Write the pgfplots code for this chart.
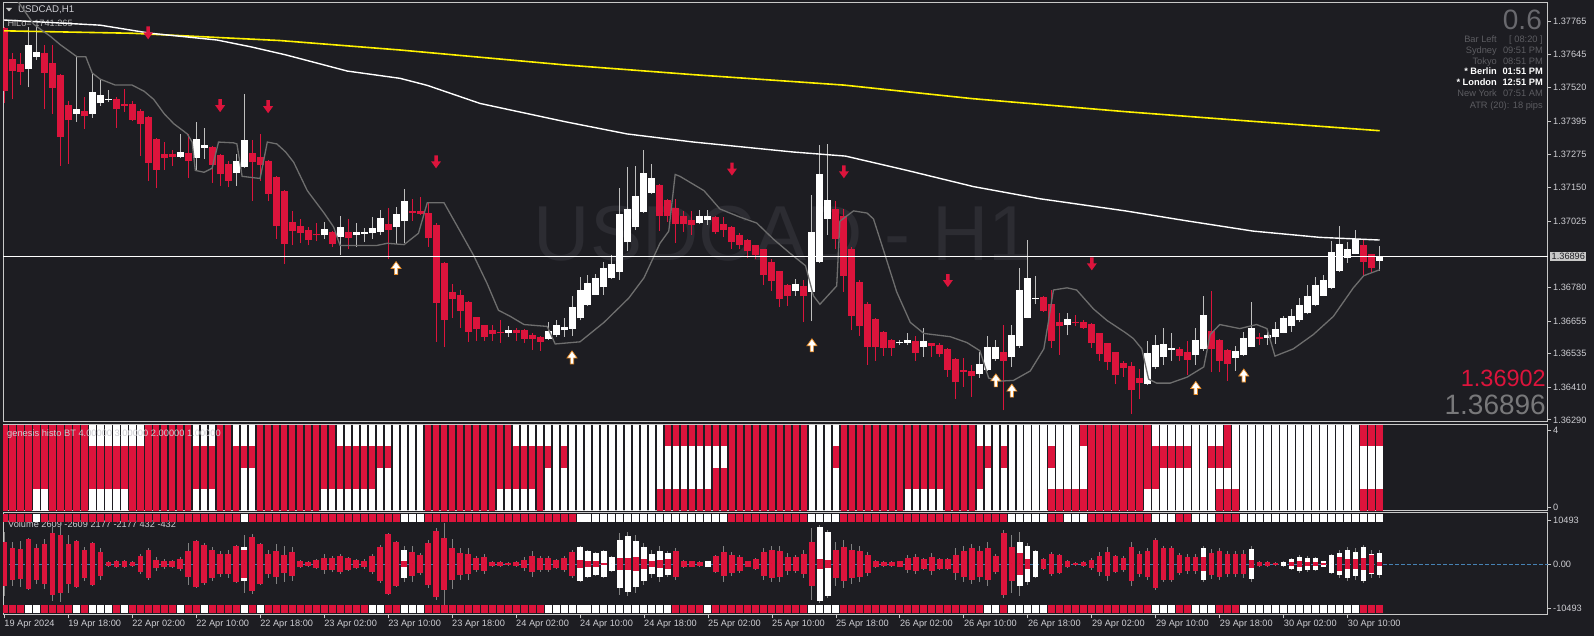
\documentclass[border=0pt]{standalone}
\usepackage{fontspec}
\setmainfont{Liberation Sans}
\usepackage{pgfplots}
\usepackage{pgfplotstable}
\pgfplotsset{compat=1.18}
\definecolor{bg}{RGB}{29,29,34}
\definecolor{frm}{RGB}{200,200,200}
\definecolor{lbl}{RGB}{205,205,210}
\definecolor{crim}{RGB}{220,20,60}
\definecolor{vwick}{RGB}{128,128,128}
\definecolor{wwick}{RGB}{190,190,190}
\definecolor{hilo}{RGB}{110,110,110}
\definecolor{dimtxt}{RGB}{92,92,97}
\definecolor{wm}{RGB}{44,44,50}
\definecolor{steel}{RGB}{70,130,180}
\definecolor{aedge}{RGB}{230,140,40}
\definecolor{boxc}{RGB}{200,200,200}
\newcommand\fs[1]{\fontsize{#1}{#1}\selectfont}

\pgfdeclareplotmark{dnarrow}{%
 \pgfpathmoveto{\pgfqpoint{-1.7pt}{7pt}}%
 \pgfpathlineto{\pgfqpoint{1.7pt}{7pt}}%
 \pgfpathlineto{\pgfqpoint{1.7pt}{1pt}}%
 \pgfpathlineto{\pgfqpoint{5pt}{1pt}}%
 \pgfpathlineto{\pgfqpoint{0pt}{-6pt}}%
 \pgfpathlineto{\pgfqpoint{-5pt}{1pt}}%
 \pgfpathlineto{\pgfqpoint{-1.7pt}{1pt}}%
 \pgfpathclose\pgfusepathqfill}
\pgfdeclareplotmark{uparrow}{%
 \pgfpathmoveto{\pgfqpoint{-1.7pt}{-7pt}}%
 \pgfpathlineto{\pgfqpoint{1.7pt}{-7pt}}%
 \pgfpathlineto{\pgfqpoint{1.7pt}{-1pt}}%
 \pgfpathlineto{\pgfqpoint{5pt}{-1pt}}%
 \pgfpathlineto{\pgfqpoint{0pt}{6pt}}%
 \pgfpathlineto{\pgfqpoint{-5pt}{-1pt}}%
 \pgfpathlineto{\pgfqpoint{-1.7pt}{-1pt}}%
 \pgfpathclose\pgfusepathqfillstroke}

\pgfplotstableread{
k o h l c r1 r2 r3 r4 vt vi vw vc ts bs
0 1.37740 1.37747 1.37462 1.37507 0 0 0 0 5300 0 7700 0 0 0
1 1.37627 1.37650 1.37477 1.37582 0 0 0 0 3900 0 5300 0 0 0
2 1.37608 1.37650 1.37530 1.37578 0 0 0 0 3600 0 5600 0 0 0
3 1.37590 1.37747 1.37522 1.37677 0 0 0 0 6000 0 6200 0 0 1
4 1.37635 1.37747 1.37623 1.37654 1 0 0 0 3800 0 4800 0 1 1
5 1.37650 1.37680 1.37440 1.37575 1 0 0 0 4800 0 5900 0 0 0
6 1.37612 1.37680 1.37424 1.37521 0 0 0 0 7400 0 8900 0 0 0
7 1.37567 1.37570 1.37232 1.37337 0 0 0 0 6900 0 9100 0 0 0
8 1.37455 1.37470 1.37237 1.37399 0 0 0 0 4800 0 6900 0 0 0
9 1.37424 1.37635 1.37394 1.37440 0 0 0 0 5500 0 5800 0 0 1
10 1.37434 1.37485 1.37367 1.37414 0 0 0 0 3300 0 4100 0 0 0
11 1.37424 1.37575 1.37409 1.37503 1 0 0 1 4900 0 5300 0 0 1
12 1.37462 1.37552 1.37452 1.37494 1 0 0 1 2900 0 3700 0 0 1
13 1.37474 1.37512 1.37467 1.37479 1 0 0 1 500 0 700 0 0 1
14 1.37479 1.37485 1.37372 1.37440 1 0 0 1 640 0 950 0 0 0
15 1.37459 1.37515 1.37432 1.37453 1 0 0 1 700 0 900 0 0 1
16 1.37460 1.37470 1.37397 1.37400 0 0 0 1 480 0 700 0 0 0
17 1.37434 1.37440 1.37267 1.37385 0 0 0 1 2000 0 2500 0 0 0
18 1.37412 1.37415 1.37175 1.37241 0 0 0 0 3400 0 3700 0 0 0
19 1.37330 1.37334 1.37147 1.37217 0 0 0 0 950 0 1600 0 0 0
20 1.37274 1.37319 1.37217 1.37261 0 0 0 0 700 0 1300 0 0 0
21 1.37274 1.37289 1.37232 1.37265 0 0 0 0 700 0 950 0 0 0
22 1.37264 1.37349 1.37259 1.37282 0 0 0 0 1200 0 1600 0 0 1
23 1.37277 1.37349 1.37187 1.37247 0 0 0 0 3100 0 4900 0 0 0
24 1.37259 1.37394 1.37214 1.37330 1 0 0 1 5600 0 5800 0 0 0
25 1.37298 1.37372 1.37256 1.37307 1 0 0 1 4500 0 5100 0 0 1
26 1.37301 1.37304 1.37169 1.37234 1 0 0 1 3300 0 4000 0 0 0
27 1.37271 1.37274 1.37157 1.37199 0 0 0 0 2300 0 3200 0 0 0
28 1.37237 1.37247 1.37151 1.37175 0 0 0 0 2500 0 3300 0 0 0
29 1.37205 1.37274 1.37157 1.37247 0 0 0 1 4300 0 4500 0 0 0
30 1.37225 1.37497 1.37222 1.37327 1 1 0 1 4000 3300 6900 1 1 1
31 1.37279 1.37327 1.37102 1.37244 1 1 0 1 6400 0 7200 0 0 0
32 1.37264 1.37349 1.37174 1.37234 0 0 0 0 4800 0 5000 0 0 1
33 1.37249 1.37252 1.37099 1.37127 0 0 0 0 2500 0 3300 0 0 0
34 1.37190 1.37193 1.36959 1.37008 0 0 0 0 3100 0 4700 0 0 0
35 1.37139 1.37142 1.36869 1.36941 0 0 0 0 2100 0 4300 0 0 0
36 1.37023 1.37064 1.36936 1.36989 0 0 0 0 2800 0 4100 0 0 0
37 1.37007 1.37034 1.36944 1.36981 0 0 0 0 640 0 950 0 0 0
38 1.36995 1.37004 1.36936 1.36956 0 0 0 0 450 0 650 0 0 0
39 1.36978 1.37019 1.36951 1.36974 0 0 0 0 950 0 1100 0 0 0
40 1.36973 1.37022 1.36959 1.36996 1 0 0 0 1350 0 2400 0 0 0
41 1.36986 1.36989 1.36929 1.36941 1 0 0 0 1430 0 2000 0 0 0
42 1.36966 1.37044 1.36899 1.37004 1 0 0 1 2000 0 2400 0 0 0
43 1.36986 1.37034 1.36921 1.36962 1 0 0 1 1430 0 1750 0 0 0
44 1.36974 1.37019 1.36929 1.36986 1 0 0 1 950 0 1200 0 0 0
45 1.36978 1.36999 1.36948 1.36984 1 0 0 1 700 0 1100 0 0 0
46 1.36981 1.37041 1.36959 1.37001 1 0 0 1 2000 0 2400 0 0 1
47 1.36986 1.37067 1.36974 1.37038 1 1 0 1 4100 0 4500 0 0 1
48 1.37017 1.37073 1.36887 1.36995 1 1 0 1 7200 0 7400 0 0 0
49 1.37004 1.37079 1.36941 1.37052 1 1 1 1 5300 0 5600 0 0 0
50 1.37026 1.37144 1.36944 1.37102 1 1 1 1 3300 800 4300 1 1 1
51 1.37064 1.37109 1.37026 1.37058 1 1 1 1 2900 0 4300 0 1 1
52 1.37065 1.37114 1.37049 1.37052 1 1 1 1 2100 0 2600 0 1 1
53 1.37056 1.37094 1.36932 1.36962 0 0 0 0 5000 0 5800 0 0 0
54 1.37011 1.37019 1.36580 1.36723 0 0 0 0 7900 0 8700 0 0 0
55 1.36872 1.36876 1.36558 1.36658 0 0 0 0 6300 0 9700 0 0 0
56 1.36765 1.36794 1.36666 1.36738 0 0 0 0 3900 0 6000 0 0 0
57 1.36753 1.36771 1.36631 1.36693 0 0 0 0 2700 0 3900 0 0 0
58 1.36726 1.36729 1.36580 1.36616 0 0 0 0 2400 0 3900 0 0 0
59 1.36670 1.36672 1.36583 1.36625 0 0 0 0 1450 0 1900 0 0 0
60 1.36642 1.36643 1.36583 1.36598 0 0 0 0 1700 0 2400 0 0 0
61 1.36621 1.36643 1.36583 1.36609 0 0 0 0 500 0 700 0 0 0
62 1.36616 1.36658 1.36576 1.36613 1 0 0 0 500 0 700 0 0 0
63 1.36613 1.36636 1.36598 1.36622 1 0 0 0 300 0 500 0 0 0
64 1.36621 1.36631 1.36583 1.36613 1 0 0 1 400 0 600 0 0 0
65 1.36621 1.36628 1.36576 1.36591 1 0 0 1 970 0 1700 0 0 0
66 1.36606 1.36613 1.36550 1.36588 1 0 0 1 1900 0 3100 0 0 0
67 1.36595 1.36601 1.36546 1.36580 0 0 0 1 1350 0 2000 0 0 0
68 1.36589 1.36651 1.36586 1.36618 1 1 0 1 1350 0 1900 0 0 1
69 1.36603 1.36661 1.36598 1.36643 1 1 1 1 970 0 1300 0 0 1
70 1.36621 1.36666 1.36598 1.36634 1 1 0 1 1500 0 2000 0 0 1
71 1.36628 1.36749 1.36601 1.36708 1 1 1 1 2900 0 3400 0 0 1
72 1.36666 1.36819 1.36658 1.36771 1 1 1 1 4100 970 4300 1 1 1
73 1.36716 1.36827 1.36711 1.36797 1 1 1 1 3100 770 3300 1 1 1
74 1.36753 1.36831 1.36752 1.36816 1 1 1 1 2700 600 2900 1 1 1
75 1.36782 1.36876 1.36752 1.36851 1 1 1 1 3100 300 3300 1 1 1
76 1.36816 1.36899 1.36812 1.36869 1 1 1 1 1750 0 2000 1 1 1
77 1.36839 1.37150 1.36809 1.37052 1 1 1 1 5800 1450 7300 1 1 1
78 1.36947 1.37226 1.36914 1.37072 1 1 1 1 6600 1450 7700 1 1 1
79 1.37004 1.37232 1.36995 1.37120 1 1 1 1 5400 1750 6800 1 1 1
80 1.37061 1.37289 1.37056 1.37204 1 1 1 1 4100 1160 5000 1 1 1
81 1.37132 1.37237 1.37127 1.37184 1 1 1 1 2400 770 3400 1 1 1
82 1.37160 1.37165 1.36989 1.37044 0 1 1 1 3100 970 4300 1 1 1
83 1.37106 1.37109 1.37022 1.37046 0 1 1 0 2600 1200 3100 1 1 1
84 1.37075 1.37109 1.36944 1.37014 0 1 1 0 3000 0 3900 0 1 0
85 1.37044 1.37064 1.36986 1.37014 0 1 1 0 700 0 900 0 1 0
86 1.37032 1.37064 1.36974 1.37013 0 1 1 0 600 0 800 0 1 0
87 1.37019 1.37068 1.37014 1.37046 0 1 1 0 500 0 700 0 1 0
88 1.37032 1.37067 1.37011 1.37044 0 1 1 0 680 0 800 1 1 1
89 1.37041 1.37044 1.36977 1.36986 0 0 1 0 1800 0 2200 0 1 0
90 1.37017 1.37041 1.36966 1.36992 0 0 1 0 2900 0 4300 0 1 0
91 1.37004 1.37007 1.36923 1.36947 0 0 0 0 2100 0 2900 0 0 0
92 1.36974 1.36983 1.36921 1.36939 0 0 0 0 1650 0 2100 0 0 0
93 1.36956 1.36959 1.36891 1.36914 0 0 0 0 600 0 800 0 0 0
94 1.36936 1.36939 1.36884 1.36899 0 0 0 0 1160 0 1500 0 0 0
95 1.36921 1.36923 1.36791 1.36828 0 0 0 0 2900 0 3900 0 0 0
96 1.36876 1.36884 1.36767 1.36804 0 0 0 0 3400 0 4400 0 0 0
97 1.36842 1.36843 1.36707 1.36738 0 0 0 0 3100 0 4400 0 0 0
98 1.36789 1.36794 1.36711 1.36749 0 0 0 0 1750 0 2600 0 0 0
99 1.36768 1.36812 1.36749 1.36795 0 0 0 0 1750 0 2100 0 0 0
100 1.36786 1.36809 1.36651 1.36747 0 0 0 0 2400 0 3400 0 0 0
101 1.36764 1.37124 1.36655 1.36986 1 1 1 1 5300 0 8700 0 1 1
102 1.36876 1.37307 1.36872 1.37199 1 1 1 1 8900 1250 9200 1 1 1
103 1.37034 1.37312 1.36974 1.37105 1 1 1 1 7700 870 8000 1 1 1
104 1.37070 1.37102 1.36921 1.36959 1 1 0 1 3400 0 5300 0 1 1
105 1.37046 1.37072 1.36764 1.36824 0 0 0 0 4100 0 5800 0 0 0
106 1.36923 1.36929 1.36621 1.36676 0 0 0 0 3400 0 4800 0 0 0
107 1.36801 1.36809 1.36601 1.36636 0 0 0 0 3100 0 4400 0 0 0
108 1.36720 1.36726 1.36493 1.36561 0 0 0 0 2100 0 2900 0 0 0
109 1.36664 1.36666 1.36508 1.36561 0 0 0 0 680 0 900 0 0 0
110 1.36615 1.36618 1.36526 1.36556 0 0 0 0 500 0 700 0 0 0
111 1.36586 1.36591 1.36526 1.36556 0 0 0 0 400 0 600 0 0 0
112 1.36573 1.36586 1.36568 1.36580 0 0 0 0 600 0 800 0 0 0
113 1.36574 1.36613 1.36568 1.36586 1 0 0 0 1450 0 2100 0 0 0
114 1.36582 1.36601 1.36508 1.36538 1 0 0 0 1750 0 2400 0 0 0
115 1.36561 1.36631 1.36523 1.36583 1 0 0 0 1160 0 1500 0 0 0
116 1.36573 1.36576 1.36523 1.36565 1 0 0 0 1750 0 2700 0 0 0
117 1.36568 1.36576 1.36523 1.36535 1 0 0 0 1160 0 1500 0 0 0
118 1.36553 1.36556 1.36448 1.36475 0 0 0 0 1160 0 1500 0 0 0
119 1.36516 1.36518 1.36366 1.36429 0 0 0 0 2100 0 3900 0 0 0
120 1.36475 1.36520 1.36411 1.36469 0 0 0 0 3100 0 4400 0 0 0
121 1.36471 1.36493 1.36376 1.36451 0 0 0 0 3900 0 4800 0 0 0
122 1.36460 1.36541 1.36445 1.36496 1 0 0 1 3100 0 4400 0 0 0
123 1.36475 1.36601 1.36472 1.36561 1 1 0 1 3900 0 5300 0 0 1
124 1.36517 1.36586 1.36508 1.36561 1 1 1 1 1900 0 2400 0 0 1
125 1.36541 1.36643 1.36325 1.36508 1 1 0 1 7500 0 8200 0 0 0
126 1.36523 1.36643 1.36486 1.36604 1 1 1 1 4100 0 6800 0 1 1
127 1.36564 1.36854 1.36556 1.36771 1 1 1 1 5300 2600 7700 1 1 1
128 1.36669 1.36956 1.36666 1.36816 1 1 1 1 4350 1250 5000 1 1 1
129 1.36738 1.36824 1.36719 1.36743 1 1 1 1 3100 0 3400 1 1 1
130 1.36746 1.36749 1.36689 1.36693 1 1 1 1 1160 0 1500 0 1 1
131 1.36719 1.36771 1.36556 1.36583 0 1 0 1 2400 0 2900 0 0 0
132 1.36654 1.36686 1.36531 1.36636 0 1 1 1 2100 0 2500 0 0 0
133 1.36643 1.36686 1.36603 1.36663 0 1 1 1 680 0 900 0 1 0
134 1.36654 1.36679 1.36636 1.36651 0 1 1 1 200 0 400 0 1 0
135 1.36651 1.36661 1.36628 1.36631 0 1 1 0 500 0 700 0 1 0
136 1.36645 1.36648 1.36556 1.36573 0 0 0 0 1060 0 1400 0 0 0
137 1.36610 1.36613 1.36508 1.36535 0 0 0 0 1900 0 2900 0 0 0
138 1.36574 1.36576 1.36475 1.36504 0 0 0 0 2900 0 4100 0 0 0
139 1.36541 1.36543 1.36421 1.36456 0 0 0 0 1800 0 2200 0 0 0
140 1.36501 1.36508 1.36448 1.36481 0 0 0 0 1500 0 2000 0 0 0
141 1.36490 1.36504 1.36313 1.36400 0 0 0 0 4100 0 5300 0 0 0
142 1.36445 1.36478 1.36366 1.36426 0 0 0 0 2400 0 3100 0 0 0
143 1.36423 1.36583 1.36418 1.36538 1 0 0 0 3100 0 3800 0 0 0
144 1.36484 1.36606 1.36478 1.36568 1 0 0 1 5800 0 6300 0 1 1
145 1.36523 1.36631 1.36493 1.36571 1 1 0 1 3900 0 4400 0 1 1
146 1.36549 1.36613 1.36508 1.36555 1 1 0 1 3900 0 4400 0 1 1
147 1.36553 1.36561 1.36508 1.36528 1 1 0 1 2100 0 2600 0 0 0
148 1.36541 1.36583 1.36456 1.36513 1 1 0 1 1750 0 2300 0 0 0
149 1.36529 1.36631 1.36493 1.36586 1 1 1 1 1750 0 2400 0 1 1
150 1.36553 1.36749 1.36546 1.36678 1 1 1 1 3900 1650 4400 1 1 1
151 1.36619 1.36768 1.36466 1.36553 1 1 0 1 2700 0 3600 0 1 1
152 1.36586 1.36591 1.36466 1.36508 0 1 0 1 3100 0 3700 0 0 0
153 1.36550 1.36553 1.36433 1.36498 0 1 0 0 2400 0 3100 0 0 0
154 1.36520 1.36565 1.36471 1.36544 0 1 1 1 2400 0 3000 0 0 0
155 1.36531 1.36616 1.36526 1.36593 1 1 1 1 2400 0 3300 0 1 1
156 1.36561 1.36726 1.36558 1.36631 1 1 1 1 3600 870 4400 1 1 1
157 1.36597 1.36610 1.36568 1.36591 1 1 1 1 500 0 700 0 1 1
158 1.36594 1.36618 1.36568 1.36603 1 1 1 1 500 0 700 0 1 1
159 1.36595 1.36651 1.36571 1.36625 1 1 1 1 300 0 500 0 1 1
160 1.36613 1.36676 1.36610 1.36667 1 1 1 1 580 0 700 1 1 1
161 1.36637 1.36701 1.36616 1.36676 1 1 1 1 1250 480 1500 1 1 1
162 1.36658 1.36741 1.36651 1.36714 1 1 1 1 1750 680 2200 1 1 1
163 1.36684 1.36789 1.36681 1.36749 1 1 1 1 1450 580 1800 1 1 1
164 1.36714 1.36819 1.36710 1.36789 1 1 1 1 1450 480 1700 1 1 1
165 1.36749 1.36827 1.36747 1.36809 1 1 1 1 680 290 800 1 1 1
166 1.36779 1.36953 1.36776 1.36911 1 1 1 1 2100 0 2500 1 1 1
167 1.36842 1.37007 1.36839 1.36941 1 1 1 1 2700 1750 3300 1 1 1
168 1.36889 1.36950 1.36872 1.36924 1 1 1 1 3400 1250 4100 1 1 1
169 1.36906 1.36995 1.36903 1.36959 1 1 1 1 2900 1250 3900 1 1 1
170 1.36936 1.36956 1.36824 1.36876 0 1 1 0 4000 1450 4600 1 1 0
171 1.36903 1.36906 1.36839 1.36851 0 1 1 0 2300 2100 3300 1 1 0
172 1.36878 1.36935 1.36842 1.36896 0 1 1 0 2609 432 3300 1 1 0
}\bars

\pgfplotsset{
  mt4/.style={scale only axis, width=1545pt, xmin=-0.15, xmax=193.04,
    axis line style={frm, line width=1pt},
    tick style={frm, line width=0.8pt},
    tick align=outside, major tick length=3.5pt,
    ytick pos=right, yticklabel pos=right,
    yticklabel style={text=lbl, font=\fs{9.2}, anchor=west, inner sep=1.5pt},
    xtick=\empty, scaled ticks=false, clip=true},
  cndl/.style={only marks, mark=none, mark size=0pt, mark options={draw=none, fill=none}, forget plot,
    error bars/y dir=plus, error bars/y explicit, error bars/error mark=none},
  sym/.style={only marks, mark=none, mark size=0pt, mark options={draw=none, fill=none}, forget plot,
    error bars/y dir=both, error bars/y explicit, error bars/error mark=none},
}

\begin{document}
\begin{tikzpicture}
\path[use as bounding box] (0pt,0pt) rectangle (1594pt,636pt);
\fill[bg] (0pt,0pt) rectangle (1594pt,636pt);
% watermark and header text (behind)
\node[text=wm, font=\fs{78}, inner sep=0pt] at (783pt,402.5pt) {USDCAD - H1};
\fill[frm] (6pt,628pt) -- (12pt,628pt) -- (9pt,624.5pt) -- cycle;
\node[text=lbl, font=\fs{9.7}, anchor=west, inner sep=0pt] at (18pt,626pt) {USDCAD,H1};
\node[text={rgb,255:red,180;green,180;blue,180}, font=\fs{9.2}, anchor=west, inner sep=0pt] at (7.3pt,612.7pt) {HiLo= 1741.265};

% ---------- main price panel ----------
\begin{axis}[mt4, at={(3pt,214pt)}, anchor=south west, height=419.5pt,
  ymin=1.36282, ymax=1.37836,
  ytick={1.37765,1.37645,1.37520,1.37395,1.37275,1.37150,1.37025,1.36780,1.36655,1.36535,1.36410,1.36290},
  yticklabels={1.37765,1.37645,1.37520,1.37395,1.37275,1.37150,1.37025,1.36780,1.36655,1.36535,1.36410,1.36290}]
\addplot[cndl, restrict expr to domain={\thisrow{o}-\thisrow{c}}{0:1},
  error bars/error bar style={crim, line width=1pt}]
  table[x=k, y=l, y error expr=\thisrow{h}-\thisrow{l}] {\bars};
\addplot[cndl, restrict expr to domain={\thisrow{c}-\thisrow{o}}{0:1},
  error bars/error bar style={wwick, line width=1pt}]
  table[x=k, y=l, y error expr=\thisrow{h}-\thisrow{l}] {\bars};
\addplot[cndl, restrict expr to domain={\thisrow{o}-\thisrow{c}}{0:1},
  error bars/error bar style={crim, line width=7pt}]
  table[x=k, y=c, y error expr=\thisrow{o}-\thisrow{c}] {\bars};
\addplot[cndl, restrict expr to domain={\thisrow{c}-\thisrow{o}}{0:1},
  error bars/error bar style={white, line width=7pt}]
  table[x=k, y=o, y error expr=\thisrow{c}-\thisrow{o}] {\bars};
% long moving average (yellow)
\addplot[yellow, line width=1.6pt] coordinates {(0,1.37731) (16,1.37722) (34.5,1.37695) (49.5,1.37660) (70,1.37605) (86,1.37569) (105,1.37530) (121,1.37480) (140,1.37432) (156,1.37396) (172,1.37361)};
% moving average (white)
\addplot[white, line width=1.4pt] coordinates {(0,1.37771) (12,1.37752) (18.3,1.37722) (26.6,1.37697) (30.8,1.37672) (35.2,1.37642) (42.9,1.37582) (49.5,1.37555) (52.9,1.37529) (59.5,1.37462) (70.2,1.37394) (77.9,1.37349) (86.2,1.37319) (98.7,1.37282) (105.2,1.37267) (112.9,1.37214) (121.2,1.37154) (129.5,1.37109) (140.2,1.37064) (147.9,1.37027) (156.2,1.36989) (164.5,1.36966) (172,1.36956)};
% HiLo line
\addplot[hilo, line width=1.3pt] coordinates {(1.6,1.37845) (3.7,1.37755) (5.8,1.37710) (7.0,1.37680) (9.1,1.37635) (10.2,1.37635) (11,1.37575) (12,1.37552) (13.9,1.37530) (16,1.37530) (17.5,1.37507) (18.7,1.37477) (20,1.37424) (21.2,1.37387) (22.9,1.37349) (23.5,1.37319) (23.9,1.37214) (25,1.37207) (26,1.37222) (26.8,1.37319) (28.7,1.37316) (29.1,1.37312) (29.75,1.37192) (32,1.37184) (32.9,1.37319) (34.1,1.37312) (35.2,1.37282) (36.2,1.37244) (37.9,1.37139) (40,1.37056) (41.2,1.37004) (42,1.36936) (46.6,1.36936) (47.9,1.36944) (50,1.36939) (51.8,1.36981) (52.9,1.37094) (55,1.37094) (57,1.36989) (58.7,1.36899) (60.4,1.36794) (61.8,1.36696) (63.3,1.36673) (65,1.36643) (67.9,1.36636) (68.9,1.36571) (72,1.36579) (75,1.36651) (78.1,1.36741) (80,1.36816) (82,1.36944) (83.1,1.36989) (83.9,1.37199) (84.5,1.37192) (87.5,1.37139) (89.5,1.37071) (92,1.37041) (94.1,1.37019) (96.2,1.36959) (98.3,1.36906) (100.2,1.36861) (101.2,1.36749) (102,1.36718) (104.1,1.36786) (104.5,1.37026) (106.2,1.37064) (107.9,1.37056) (108.7,1.37034) (110,1.36914) (111.6,1.36764) (113.3,1.36651) (115,1.36610) (118.3,1.36598) (120.4,1.36576) (122,1.36546) (123.1,1.36445) (124.3,1.36433) (126.2,1.36436) (128.3,1.36471) (130,1.36553) (130.6,1.36658) (131.2,1.36771) (132.9,1.36779) (134.1,1.36771) (136.2,1.36701) (137.9,1.36658) (140.2,1.36613) (141.2,1.36591) (142.25,1.36553) (143.1,1.36441) (144.1,1.36426) (145.8,1.36426) (147.9,1.36448) (150,1.36486) (150.8,1.36606) (152,1.36643) (154.5,1.36628) (156.6,1.36643) (157.9,1.36628) (158.9,1.36526) (161.2,1.36553) (163.7,1.36606) (166.2,1.36673) (168.7,1.36779) (170,1.36824) (172,1.36846)};
% current price line
\addplot[white, line width=1pt] coordinates {(-0.15,1.36896) (193.04,1.36896)};
% signal arrows
\addplot[only marks, mark=dnarrow, crim] coordinates {(18,1.37722) (27,1.37452) (33,1.37448) (54,1.37244) (91,1.37217) (105,1.37207) (118,1.36804) (136,1.36866)};
\addplot[only marks, mark=uparrow, mark options={fill=white, draw=aedge, line width=0.7pt}] coordinates {(49,1.36854) (71,1.36523) (101,1.36568) (124,1.36438) (126,1.36400) (149,1.36410) (155,1.36456)};
\end{axis}

% ---------- genesis histo panel ----------
\begin{axis}[mt4, at={(3pt,125pt)}, anchor=south west, height=86pt,
  ymin=0, ymax=4, ytick={0.19,3.76}, yticklabels={0,4}]
\addplot[cndl, error bars/error bar style={crim, line width=6.7pt}]
  table[x=k, y expr=0, y error expr=4] {\bars};
\addplot[cndl, restrict expr to domain={\thisrow{r1}}{0.5:1.5}, error bars/error bar style={white, line width=6.7pt}]
  table[x=k, y expr=0, y error expr=1] {\bars};
\addplot[cndl, restrict expr to domain={\thisrow{r2}}{0.5:1.5}, error bars/error bar style={white, line width=6.7pt}]
  table[x=k, y expr=1, y error expr=1] {\bars};
\addplot[cndl, restrict expr to domain={\thisrow{r3}}{0.5:1.5}, error bars/error bar style={white, line width=6.7pt}]
  table[x=k, y expr=2, y error expr=1] {\bars};
\addplot[cndl, restrict expr to domain={\thisrow{r4}}{0.5:1.5}, error bars/error bar style={white, line width=6.7pt}]
  table[x=k, y expr=3, y error expr=1] {\bars};
\end{axis}
\node[text=lbl, font=\fs{9.3}, anchor=west, inner sep=0pt] at (7pt,202pt) {genesis histo BT 4.00000 3.00000 2.00000 1.00000};

% ---------- volume panel ----------
\node[text=lbl, font=\fs{9.2}, anchor=west, inner sep=0pt] at (8pt,112pt) {Volume 2609 -2609 2177 -2177 432 -432};
\begin{axis}[mt4, at={(3pt,21pt)}, anchor=south west, height=102pt,
  ymin=-12163, ymax=12163, ytick={-10493,0,10493}, yticklabels={-10493,0.00,10493},
  xtick={0,8,...,168}, xtick pos=bottom,
  xticklabels={19 Apr 2024,19 Apr 18:00,22 Apr 02:00,22 Apr 10:00,22 Apr 18:00,23 Apr 02:00,23 Apr 10:00,23 Apr 18:00,24 Apr 02:00,24 Apr 10:00,24 Apr 18:00,25 Apr 02:00,25 Apr 10:00,25 Apr 18:00,26 Apr 02:00,26 Apr 10:00,26 Apr 18:00,29 Apr 02:00,29 Apr 10:00,29 Apr 18:00,30 Apr 02:00,30 Apr 10:00},
  xticklabel style={text=lbl, font=\fs{9.2}, anchor=north west, inner sep=0pt, yshift=-1pt}]
\addplot[steel, line width=0.8pt, dash pattern=on 4pt off 2pt] coordinates {(-0.15,0) (193.04,0)};
\addplot[sym, error bars/error bar style={vwick, line width=1pt}]
  table[x=k, y expr=0, y error=vw] {\bars};
\addplot[sym, restrict expr to domain={\thisrow{vc}}{-0.5:0.5}, error bars/error bar style={crim, line width=5.3pt}]
  table[x=k, y expr=0, y error=vt] {\bars};
\addplot[sym, restrict expr to domain={\thisrow{vc}}{0.5:1.5}, error bars/error bar style={white, line width=5.3pt}]
  table[x=k, y expr=0, y error=vt] {\bars};
\addplot[sym, restrict expr to domain={\thisrow{vc}}{0.5:1.5}, error bars/error bar style={crim, line width=5.3pt}]
  table[x=k, y expr=0, y error=vi] {\bars};
% top and bottom strips
\addplot[cndl, restrict expr to domain={\thisrow{ts}}{-0.5:0.5}, error bars/error bar style={crim, line width=7pt}]
  table[x=k, y expr=10020, y error expr=1880] {\bars};
\addplot[cndl, restrict expr to domain={\thisrow{ts}}{0.5:1.5}, error bars/error bar style={white, line width=7pt}]
  table[x=k, y expr=10020, y error expr=1880] {\bars};
\addplot[cndl, restrict expr to domain={\thisrow{bs}}{-0.5:0.5}, error bars/error bar style={crim, line width=7pt}]
  table[x=k, y expr=-11680, y error expr=1900] {\bars};
\addplot[cndl, restrict expr to domain={\thisrow{bs}}{0.5:1.5}, error bars/error bar style={white, line width=7pt}]
  table[x=k, y expr=-11680, y error expr=1900] {\bars};
\end{axis}

% ---------- right-hand information ----------
\node[text={rgb,255:red,105;green,105;blue,110}, font=\fs{28}, anchor=base east, inner sep=0pt] at (1542pt,606pt) {0.6};
\begin{scope}[every node/.style={font=\fs{9.3}, inner sep=0pt, anchor=base east}]
\node[text=dimtxt] at (1497pt,593.7pt) {Bar Left};
\node[text=dimtxt] at (1543pt,593.7pt) {[ 08:20 ]};
\node[text=dimtxt] at (1497pt,582.7pt) {Sydney};
\node[text=dimtxt] at (1543pt,582.7pt) {09:51 PM};
\node[text=dimtxt] at (1497pt,571.7pt) {Tokyo};
\node[text=dimtxt] at (1543pt,571.7pt) {08:51 PM};
\node[text=white] at (1497pt,561pt) {\bfseries * Berlin};
\node[text=white] at (1543pt,561pt) {\bfseries 01:51 PM};
\node[text=white] at (1497pt,550pt) {\bfseries * London};
\node[text=white] at (1543pt,550pt) {\bfseries 12:51 PM};
\node[text=dimtxt] at (1497pt,539pt) {New York};
\node[text=dimtxt] at (1543pt,539pt) {07:51 AM};
\node[text=dimtxt] at (1543pt,527.7pt) {ATR (20): 18 pips};
\end{scope}
\node[text=crim, font=\fs{23.5}, anchor=base east, inner sep=0pt] at (1546pt,249pt) {1.36902};
\node[text={rgb,255:red,120;green,120;blue,122}, font=\fs{28}, anchor=base east, inner sep=0pt] at (1546pt,221pt) {1.36896};
\node[fill=boxc, text=bg, font=\fs{9.2}, anchor=west, inner xsep=1.5pt, inner ysep=1.5pt] at (1550pt,379.3pt) {1.36896};
\end{tikzpicture}
\end{document}
